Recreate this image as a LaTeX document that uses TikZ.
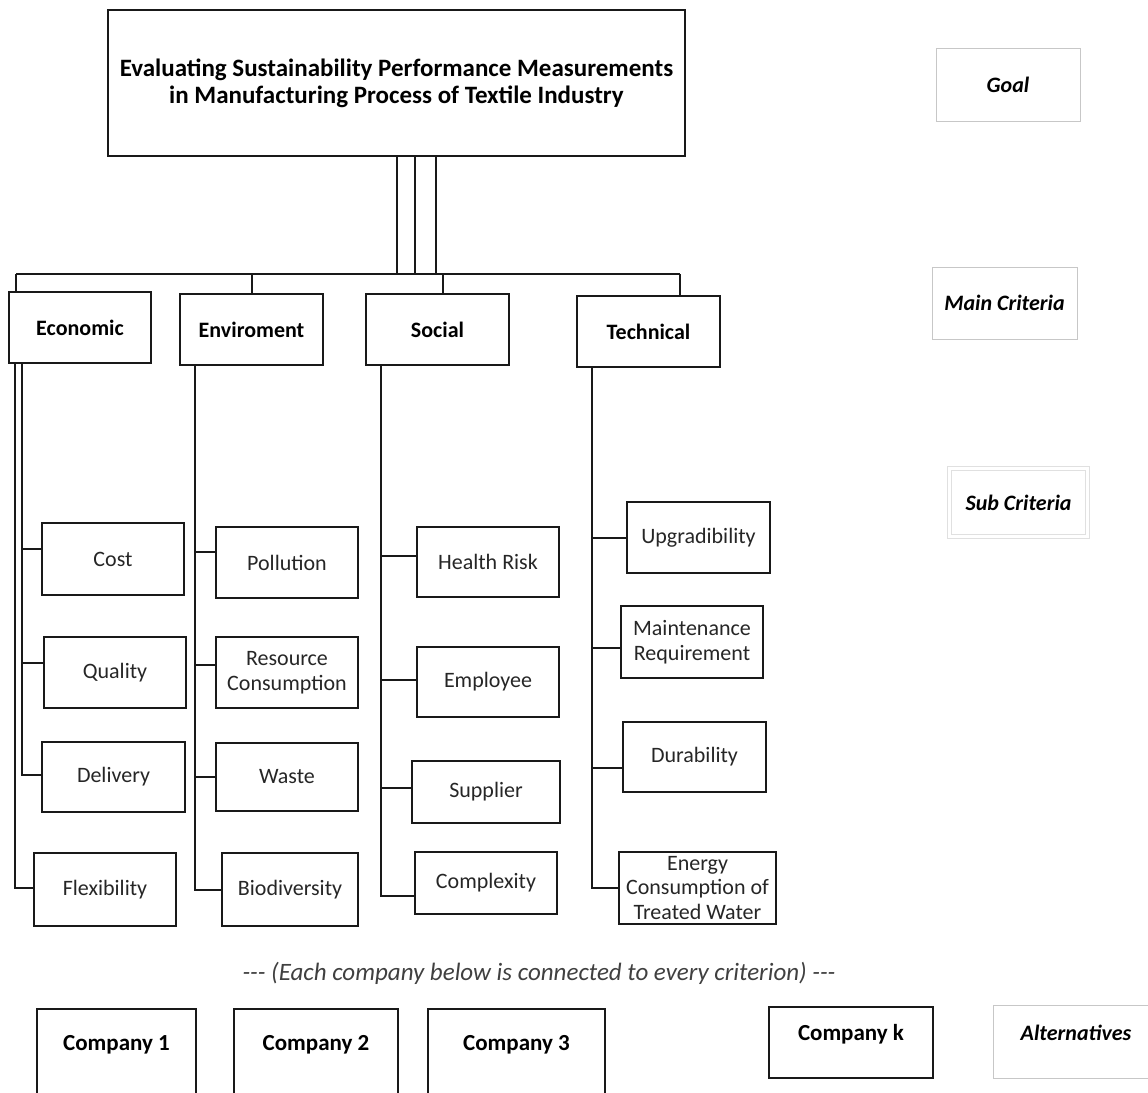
\documentclass[tikz,border=0pt]{standalone}
\usepackage{fontspec}
\setmainfont{Carlito}
\tikzset{
  box/.style={draw=black!90,line width=2pt,inner sep=0pt,align=center,minimum width=143pt,minimum height=71pt},
  critbox/.style={box,font=\fontsize{22}{26}\selectfont\bfseries},
  subbox/.style={box,text=black!85,font=\fontsize{22}{24.5}\selectfont},
  compbox/.style={box,font=\fontsize{23}{26}\selectfont\bfseries},
  levelbox/.style={draw=black!22,line width=0.8pt,inner sep=0pt,minimum width=144pt,minimum height=73pt,font=\fontsize{22}{26}\selectfont\bfseries\itshape},
  link/.style={draw=black!90,line width=2pt},
}
\begin{document}
\begin{tikzpicture}[x=1pt,y=-1pt]
            \useasboundingbox (0,0) rectangle (1148,1092);
            % Goal
            \node[box,font=\fontsize{25}{27}\selectfont\bfseries,minimum width=577pt,minimum height=146pt](goal) at (396.5,83){Evaluating Sustainability Performance Measurements\\in Manufacturing Process of Textile Industry};
            % Main criteria
            \node[critbox,minimum width=142pt](econ) at (80,327.5){Economic};
            \node[critbox](env) at (251.5,329.5){Enviroment};
            \node[critbox](soc) at (437.5,329.5){Social};
            \node[critbox](tech) at (648.5,331.5){Technical};
            % Sub criteria
            \node[subbox,minimum width=142pt,minimum height=72pt](cost) at (113,559){Cost};
            \node[subbox,minimum width=142pt](quality) at (115,672.5){Quality};
            \node[subbox,minimum width=143pt,minimum height=70pt](delivery) at (113.5,777){Delivery};
            \node[subbox,minimum width=142pt,minimum height=73pt](flex) at (105,889.5){Flexibility};
            \node[subbox,minimum width=142pt](pollution) at (287,562.5){Pollution};
            \node[subbox,minimum width=142pt](resource) at (287,672.5){Resource\\Consumption};
            \node[subbox,minimum width=142pt,minimum height=68pt](waste) at (287,777){Waste};
            \node[subbox,minimum width=136pt,minimum height=73pt](biodiv) at (290,889.5){Biodiversity};
            \node[subbox,minimum width=142pt,minimum height=70pt](health) at (488,562){Health Risk};
            \node[subbox,minimum width=142pt,minimum height=70pt](employee) at (488,682){Employee};
            \node[subbox,minimum width=148pt,minimum height=62pt](supplier) at (486,792){Supplier};
            \node[subbox,minimum width=142pt,minimum height=62pt](complexity) at (486,883){Complexity};
            \node[subbox](upgrad) at (698.5,537.5){Upgradibility};
            \node[subbox,minimum width=142pt,minimum height=72pt](maint) at (692,642){Maintenance\\Requirement};
            \node[subbox,minimum height=70pt](durab) at (694.5,757){Durability};
            \node[subbox,minimum width=157pt,minimum height=72pt](energy) at (697.5,888){Energy\\Consumption of\\Treated Water};
            % Alternatives
            \node[text=black!75,font=\fontsize{25}{28}\selectfont\itshape](note) at (539,973){-{}-{}- (Each company below is connected to every criterion) -{}-{}-};
            \node[compbox,minimum width=159pt,text height=41pt,text depth=60pt](comp1) at (116.5,1059.5){Company 1};
            \node[compbox,minimum width=164pt,text height=41pt,text depth=60pt](comp2) at (316,1059.5){Company 2};
            \node[compbox,minimum width=177pt,text height=41pt,text depth=60pt](comp3) at (516.5,1059.5){Company 3};
            \node[compbox,minimum width=164pt,text height=31pt,text depth=36pt](compk) at (851,1042.5){Company k};
            % Level labels
            \node[levelbox](lblGoal) at (1008,84.5){Goal};
            \node[levelbox,minimum width=145pt,minimum height=72pt](lblMain) at (1004.5,303){Main Criteria};
            \node[levelbox,double=white,double distance=3pt,draw=black!12,minimum width=138pt,minimum height=68pt](lblSub) at (1018.5,502.5){Sub Criteria};
            \node[levelbox,minimum width=166pt,text height=32pt,text depth=36pt](lblAlt) at (1076,1042){Alternatives};
            % Goal to main criteria
            \coordinate(busL) at (16,274);
            \coordinate(busR) at (680,274);
            \coordinate(socTop) at ([xshift=5.5pt]soc.north);
            \coordinate(techTop) at (busR |- tech.north);
            \draw[link](busL)--(busR);
            \draw[link]([xshift=0.5pt]goal.south)--([xshift=0.5pt]goal.south |- busL);
            \draw[link]([xshift=18.5pt]goal.south)--([xshift=18.5pt]goal.south |- busL);
            \draw[link]([xshift=39.5pt]goal.south)--([xshift=39.5pt]goal.south |- busL);
            \draw[link](busL)--(busL |- econ.north);
            \draw[link](env.north |- busL)--(env.north);
            \draw[link](socTop |- busL)--(socTop);
            \draw[link](busR)--(techTop);
            % Trunks
            \coordinate(ecoOut) at ([xshift=-65pt]econ.south);
            \coordinate(ecoIn) at ([xshift=-58pt]econ.south);
            \coordinate(envIn) at ([xshift=-56.5pt]env.south);
            \coordinate(socIn) at ([xshift=-56.5pt]soc.south);
            \coordinate(techIn) at ([xshift=-56.5pt]tech.south);
            % Economic
            \draw[link](ecoIn)|-([yshift=10pt]cost.west);
            \draw[link](ecoIn)|-([yshift=10pt]quality.west);
            \draw[link](ecoIn)|-([yshift=2pt]delivery.west);
            \draw[link](ecoOut)|-([yshift=2pt]flex.west);
            % Enviroment
            \draw[link](envIn)|-([yshift=11pt]pollution.west);
            \draw[link](envIn)|-([yshift=8pt]resource.west);
            \draw[link](envIn)|-(waste.west);
            \draw[link](envIn)|-(biodiv.west);
            % Social
            \draw[link](socIn)|-([yshift=6pt]health.west);
            \draw[link](socIn)|-([yshift=2pt]employee.west);
            \draw[link](socIn)|-([yshift=4pt]supplier.west);
            \draw[link](socIn)|-([yshift=-13pt]complexity.west);
            % Technical
            \draw[link](techIn)|-(upgrad.west);
            \draw[link](techIn)|-([yshift=-6pt]maint.west);
            \draw[link](techIn)|-([yshift=-11pt]durab.west);
            \draw[link](techIn)|-(energy.west);
        \end{tikzpicture}
\end{document}
